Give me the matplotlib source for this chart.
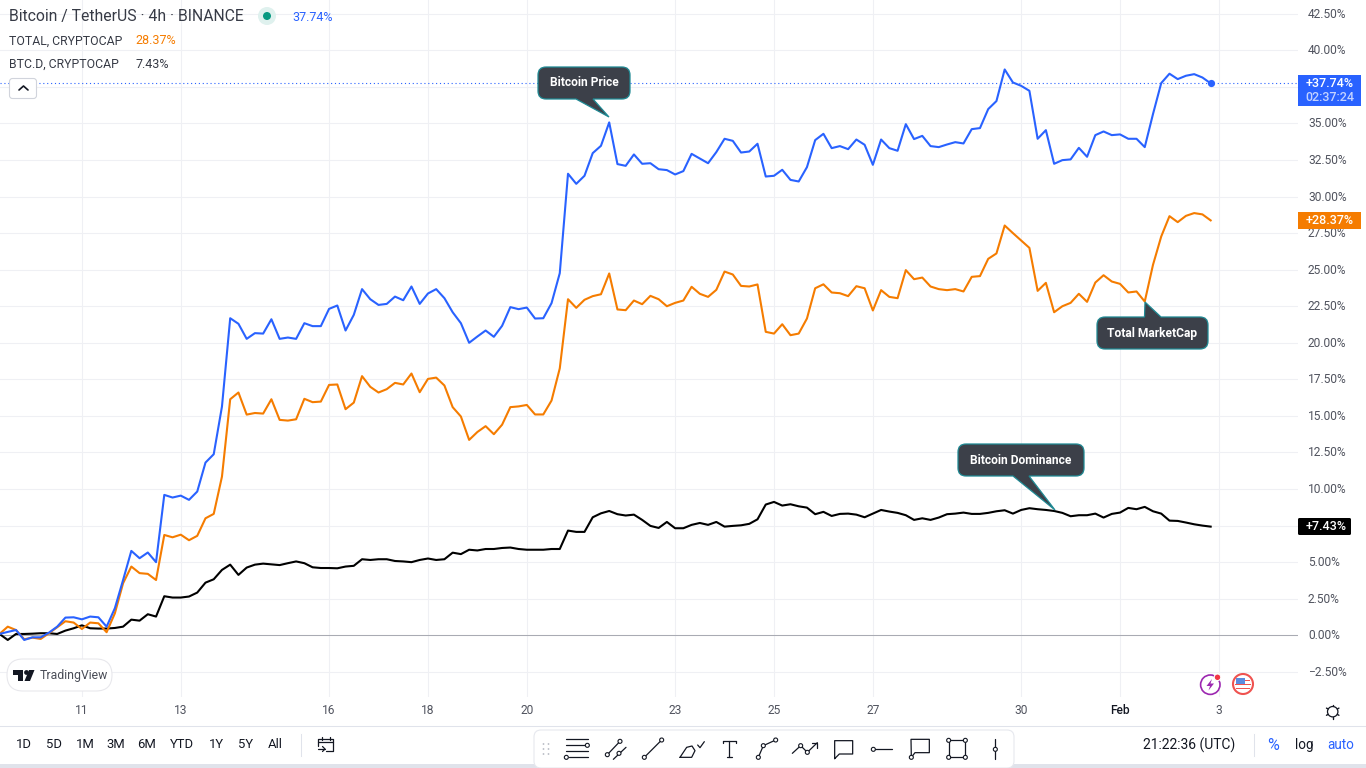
import numpy as np
import matplotlib
matplotlib.use("Agg")
import matplotlib.pyplot as plt
from matplotlib.patches import PathPatch, Circle, Rectangle, FancyBboxPatch, Polygon
from matplotlib.path import Path
from matplotlib.transforms import ScaledTranslation

plt.rcParams['font.family'] = ['Roboto', 'DejaVu Sans']

btc_price = [
 .09,.23,.36,-.32,-.14,-.14,.18,.59,1.21,1.23,
 1.09,1.28,1.23,.59,1.85,3.78,5.77,5.27,5.66,5.0,
 9.6,9.42,9.55,9.26,9.83,11.81,12.38,15.64,21.68,21.3,
 20.27,20.66,20.63,21.61,20.27,20.36,20.27,21.34,21.14,21.14,
 22.32,22.55,20.84,21.91,23.67,22.98,22.59,22.66,23.16,22.91,
 23.85,22.66,23.37,23.67,23.05,22.09,21.34,20.0,20.43,20.84,
 20.41,21.16,22.44,22.3,22.41,21.66,21.68,22.71,24.76,31.56,
 30.87,31.42,32.97,33.47,35.07,32.22,32.1,32.88,32.24,32.28,
 31.87,31.81,31.51,31.74,32.92,32.6,32.28,33.04,33.95,33.81,
 33.01,33.08,33.61,31.37,31.42,31.83,31.14,31.03,32.01,33.86,
 34.29,33.31,33.45,33.24,33.9,33.54,32.17,33.9,33.31,33.13,
 34.95,33.93,34.15,33.45,33.38,33.56,33.72,33.63,34.61,34.68,
 35.98,36.53,38.69,37.8,37.57,37.23,33.95,34.54,32.24,32.49,
 32.54,33.33,32.72,34.2,34.45,34.2,34.25,33.95,33.95,33.38,
 35.64,37.76,38.4,38.03,38.26,38.37,38.14,37.74]

total_mcap = [
 .09,.59,.36,-.27,-.16,-.25,.14,.55,.96,.87,
 .43,.87,.82,.21,1.5,3.56,4.7,4.25,4.2,3.78,
 6.86,6.7,6.88,6.5,6.8,8.0,8.3,10.85,16.14,16.6,
 15.09,15.2,15.16,16.14,14.73,14.68,14.77,16.17,15.94,15.98,
 17.12,17.15,15.46,15.91,17.72,16.99,16.6,16.83,17.26,17.15,
 17.9,16.62,17.53,17.62,17.08,15.6,14.96,13.36,13.9,14.3,
 13.75,14.4,15.6,15.65,15.75,15.1,15.1,16.05,18.25,22.98,
 22.39,22.94,23.19,23.32,24.74,22.28,22.23,22.89,22.64,23.21,
 22.98,22.5,22.73,22.89,23.83,23.35,23.14,23.62,24.87,24.67,
 23.89,23.85,23.99,20.75,20.63,21.27,20.52,20.63,21.66,23.73,
 24.0,23.44,23.39,23.19,23.87,23.73,22.21,23.6,23.14,23.05,
 24.97,24.35,24.46,23.85,23.67,23.6,23.67,23.51,24.51,24.56,
 25.74,26.11,28.02,27.5,27.0,26.49,23.55,24.1,22.09,22.5,
 22.73,23.35,22.8,24.12,24.62,24.19,24.03,23.44,23.51,22.82,
 25.33,27.27,28.66,28.25,28.68,28.87,28.78,28.37]

btc_dominance = [
 .09,-.32,.09,.09,.11,.14,.14,.09,.32,.48,
 .68,.48,.46,.46,.5,.59,1.07,1.0,1.44,1.28,
 2.67,2.58,2.58,2.65,2.92,3.6,3.83,4.47,4.83,4.13,
 4.63,4.83,4.9,4.85,4.8,4.93,5.05,4.93,4.65,4.6,
 4.6,4.58,4.7,4.75,5.2,5.15,5.2,5.2,5.08,5.05,
 5.0,5.15,5.25,5.15,5.2,5.65,5.55,5.85,5.8,5.9,
 5.9,5.97,6.0,5.9,5.85,5.85,5.85,5.9,5.9,7.16,
 7.07,7.07,8.07,8.34,8.5,8.28,8.19,8.25,7.89,7.48,
 7.34,7.75,7.32,7.32,7.55,7.68,7.55,7.75,7.43,7.48,
 7.52,7.62,7.93,8.94,9.12,8.87,8.96,8.82,8.73,8.28,
 8.44,8.16,8.3,8.32,8.25,8.07,8.32,8.57,8.46,8.37,
 8.21,7.89,8.0,7.89,8.05,8.28,8.32,8.39,8.3,8.3,
 8.37,8.48,8.55,8.32,8.57,8.69,8.62,8.57,8.5,8.37,
 8.14,8.21,8.21,8.32,8.05,8.3,8.39,8.71,8.62,8.78,
 8.48,8.32,7.84,7.82,7.71,7.59,7.5,7.43]

date_tick_bars = [10, 22, 40, 52, 64, 82, 94, 106, 124, 136, 148]
date_tick_labels = ['11', '13', '16', '18', '20', '23', '25', '27', '30', 'Feb', '3']
pct_ticks = [-2.5 + 2.5 * i for i in range(19)]
hidden_pct_labels = [7.5, 37.5]
pct_labels = ['' if v in hidden_pct_labels else f"{v:.2f}%".replace('-', '\u2212') for v in pct_ticks]
range_buttons = ['1D', '5D', '1M', '3M', '6M', 'YTD', '1Y', '5Y', 'All']

BLUE, ORANGE, INK = '#2962ff', '#f57c00', '#131722'
GRID = '#eff0f4'
px = lambda s: s * 0.72

fig = plt.figure(figsize=(13.66, 7.68), dpi=100, facecolor='white')
ax = fig.add_axes([0, 71 / 768, 1298 / 1366, 697 / 768])
bars = np.arange(len(btc_price))
ax.set_xlim(0.06, 157.6)
ax.set_ylim(-4.22, 43.44)
for s in ax.spines.values():
    s.set_visible(False)
ax.set_xticks(date_tick_bars, date_tick_labels)
ax.yaxis.tick_right()
ax.set_yticks(pct_ticks, pct_labels)
ax.tick_params(axis='both', length=0, colors='#50535e', labelsize=px(12))
ax.tick_params(axis='x', pad=px(7))
ax.tick_params(axis='y', pad=px(10))
up = ScaledTranslation(0, 1 / 100, fig.dpi_scale_trans)
for lab in ax.get_yticklabels():
    lab.set_transform(lab.get_transform() + up)
for lab in ax.get_xticklabels():
    if lab.get_text() == 'Feb':
        lab.set_color(INK)
        lab.set_fontweight('medium')
ax.grid(True, color=GRID, lw=0.75)
ax.set_axisbelow(True)
ax.axhline(0, color='#a9abb3', lw=0.75, zorder=1.5)
ax.axhline(btc_price[-1], color=BLUE, lw=0.8, ls=(0, (1, 2.5)), zorder=1.6)
ax.plot(bars, btc_dominance, color='black', lw=1.5, zorder=3, solid_joinstyle='round')
ax.plot(bars, total_mcap, color=ORANGE, lw=1.5, zorder=3.1, solid_joinstyle='round')
ax.plot(bars, btc_price, color=BLUE, lw=1.5, zorder=3.2, solid_joinstyle='round')
ax.plot(bars[-1], btc_price[-1], 'o', color=BLUE, ms=5.2, mew=0, zorder=3.3)

ui = fig.add_axes([0, 0, 1, 1], zorder=5)
ui.set_xlim(0, 1366)
ui.set_ylim(768, 0)
ui.axis('off')
ui.patch.set_alpha(0)


def label(x, y, s, size=12, color=INK, ha='left', weight='normal', **kw):
    return ui.text(x, y, s, fontsize=px(size), color=color, ha=ha, va='center',
                   fontweight=weight, **kw)


def seg(pts, color=INK, lw=1.0, **kw):
    p = np.array(pts, float)
    ui.plot(p[:, 0], p[:, 1], color=color, lw=lw, solid_capstyle='round', **kw)


def dot(x, y, r=2.0, fc='white', ec=INK, lw=0.8, z=6):
    ui.add_patch(Circle((x, y), r, fc=fc, ec=ec, lw=lw, zorder=z))


# legend
label(9, 16, 'Bitcoin / TetherUS \u00b7 4h \u00b7 BINANCE', 15.7, '#363a45')
ui.add_patch(Circle((267, 16), 9, fc='#dff1ee', ec='none'))
ui.add_patch(Circle((267, 16), 4, fc='#089981', ec='none'))
label(292, 17.5, f"{btc_price[-1]:.2f}%", 12.5, BLUE)
label(9, 41, 'TOTAL, CRYPTOCAP', 12.2, '#363a45')
label(135, 41, f"{total_mcap[-1]:.2f}%", 12.5, ORANGE)
label(9, 64, 'BTC.D, CRYPTOCAP', 12.2, '#363a45')
label(135, 64, f"{btc_dominance[-1]:.2f}%", 12.5, '#363a45')
ui.add_patch(FancyBboxPatch((11, 80), 24, 17, boxstyle='round,pad=1.5,rounding_size=3',
                            fc='white', ec='#d1d4dc', lw=0.8))
seg([(19, 90), (23.5, 86), (28, 90)], lw=1.2)


# callouts
def callout(x0, y0, x1, y1, tip, b1, b2, side, text, tx, ty):
    r = 8
    verts = [(x0 + r, y0)]
    codes = [Path.MOVETO]
    if side == 'top':
        verts += [(b1, y0), tip, (b2, y0)]
        codes += [Path.LINETO] * 3
    verts += [(x1 - r, y0), (x1, y0), (x1, y0 + r), (x1, y1 - r), (x1, y1), (x1 - r, y1)]
    codes += [Path.LINETO, Path.CURVE3, Path.CURVE3, Path.LINETO, Path.CURVE3, Path.CURVE3]
    if side == 'bottom':
        verts += [(b2, y1), tip, (b1, y1)]
        codes += [Path.LINETO] * 3
    verts += [(x0 + r, y1), (x0, y1), (x0, y1 - r), (x0, y0 + r), (x0, y0), (x0 + r, y0)]
    codes += [Path.LINETO, Path.CURVE3, Path.CURVE3, Path.LINETO, Path.CURVE3, Path.CURVE3]
    ui.add_patch(PathPatch(Path(verts, codes), fc='#3c4049', ec='#1f8a94', lw=0.9, zorder=7))
    label(tx, ty, text, 12, 'white', ha='center', weight='bold', zorder=8)


callout(538, 67, 630, 99, (609, 117), 576, 593, 'bottom', 'Bitcoin Price', 584, 82)
callout(1097, 317, 1208, 349, (1145, 302), 1144.5, 1161, 'top', 'Total MarketCap', 1152, 333)
callout(958, 444, 1084, 476, (1055, 510), 1013, 1029, 'bottom', 'Bitcoin Dominance', 1021, 460)

# price tags
ui.add_patch(Rectangle((1298, 75), 63, 31, fc=BLUE, ec='none', zorder=6))
label(1330, 83.5, f"+{btc_price[-1]:.2f}%", 12.5, 'white', ha='center', weight='medium', zorder=7)
label(1330, 97.7, '02:37:24', 12.5, '#c3d2ff', ha='center', weight='medium', zorder=7)
ui.add_patch(Rectangle((1298, 212), 63, 17, fc=ORANGE, ec='none', zorder=6))
label(1330, 220.5, f"+{total_mcap[-1]:.2f}%", 12.5, 'white', ha='center', weight='medium', zorder=7)
ui.add_patch(FancyBboxPatch((1298, 518), 53, 17, boxstyle='round,pad=0,rounding_size=1.5',
                            fc='black', ec='none', zorder=6))
label(1326, 526.5, f"+{btc_dominance[-1]:.2f}%", 12.5, 'white', ha='center', weight='medium', zorder=7)

# TradingView badge
ui.add_patch(FancyBboxPatch((7, 659), 105, 32, boxstyle='round,pad=0,rounding_size=16',
                            fc='white', ec='#e8e8ec', lw=0.8))
ui.add_patch(Polygon([(13, 670), (23, 670), (23, 681), (18, 681), (18, 675), (13, 675)], fc=INK, ec='none'))
ui.add_patch(Circle((26.5, 672.5), 2.4, fc=INK, ec='none'))
ui.add_patch(Polygon([(29, 670), (34.5, 670), (30, 681), (24.5, 681)], fc=INK, ec='none'))
label(40, 675, 'TradingView', 12.3, '#4a4d57')

# news / flag badges
ui.add_patch(Circle((1210.3, 684.7), 9.7, fc='white', ec='#9c27b0', lw=1.2))
ui.add_patch(Polygon([(1212, 679), (1206.5, 686), (1210, 686), (1208.5, 690.5), (1214, 683.5), (1210.5, 683.5)],
                     fc='#9c27b0', ec='none'))
ui.add_patch(Circle((1217.5, 677.3), 3.3, fc='#f23645', ec='white', lw=0.8))
ui.add_patch(Circle((1243, 684), 10, fc='white', ec='#ef5350', lw=1.5))
ui.add_patch(Rectangle((1235, 683.5), 16, 1.4, fc='#ef5350', ec='none'))
ui.add_patch(Rectangle((1236, 687.5), 14, 1.8, fc='#ef5350', ec='none'))
ui.add_patch(Rectangle((1236, 678), 8.5, 5.5, fc='#5b8cdf', ec='none'))
ui.add_patch(Rectangle((1244.5, 679.5), 5.5, 1.4, fc='#ef5350', ec='none'))

# gear
ui.add_patch(Circle((1332.7, 711.7), 5.2, fc='white', ec=INK, lw=0.9))
for a in np.deg2rad(np.arange(0, 360, 60) + 30):
    seg([(1332.7 + 5.4 * np.cos(a), 711.7 + 5.4 * np.sin(a)),
         (1332.7 + 7.2 * np.cos(a), 711.7 + 7.2 * np.sin(a))], lw=1.0)

# bottom bar
ui.plot([0, 1366], [725.5, 725.5], color='#e0e3eb', lw=0.75)
ui.add_patch(Rectangle((0, 764), 1366, 4, fc='#e0e3eb', ec='none'))
for x, t in zip([24, 54, 85, 116, 147, 182, 216, 246, 275], range_buttons):
    label(x, 745, t, 13, ha='center')
ui.plot([300.5, 300.5], [734, 756], color='#e0e3eb', lw=0.75)
seg([(322, 739), (318.3, 739), (318.3, 746)], lw=0.9)
seg([(322, 739), (333.3, 739), (333.3, 751), (326, 751)], lw=0.9)
seg([(318.3, 742), (333.3, 742)], lw=0.9)
seg([(321.5, 737), (321.5, 740)], lw=0.9)
seg([(330, 737), (330, 740)], lw=0.9)
seg([(317.5, 749), (325, 749)], lw=0.9)
seg([(322.5, 746.5), (325, 749), (322.5, 751.5)], lw=0.9)
label(1143, 745, '21:22:36 (UTC)', 13.9)
ui.plot([1253.5, 1253.5], [734, 756], color='#e0e3eb', lw=0.75)
label(1273, 745, '%', 16, BLUE, ha='center')
label(1304, 745, 'log', 13.5, ha='center')
label(1341, 745, 'auto', 13.5, BLUE, ha='center')

# drawing toolbar
ui.add_patch(FancyBboxPatch((534, 730), 480, 38, boxstyle='round,pad=0,rounding_size=7',
                            fc='white', ec='#e6e8ee', lw=0.8, zorder=3.2))
for xd in (543.5, 548.5):
    for yd in (744, 749, 754):
        ui.add_patch(Circle((xd, yd), 0.9, fc='#b8bbc4', ec='none', zorder=6))


def T(zx, zy):
    return (530 + zx / 3, 660 + zy / 3)


def tseg(*pts, lw=0.9):
    seg([T(*p) for p in pts], lw=lw, zorder=6)


def tdot(zx, zy):
    x, y = T(zx, zy)
    dot(x, y, r=2.0, z=7)


tseg((108, 238), (173, 238)); tseg((108, 256), (165, 256)); tseg((108, 274), (173, 274)); tseg((118, 292), (173, 292))
tdot(172, 256); tdot(109, 292)
tseg((232, 284), (270, 244)); tseg((250, 298), (288, 262))
tdot(232, 284); tdot(270, 244); tdot(267, 280)
tseg((343, 292), (395, 240)); tdot(343, 292); tdot(395, 240)
tseg((450, 292), (470, 262), (486, 258), (495, 272), (485, 292), (450, 292))
tseg((503, 255), (510, 263), (523, 245))
tseg((598, 242), (598, 292)); tseg((580, 242), (617, 242)); tseg((590, 292), (606, 292))
tseg((580, 242), (580, 250)); tseg((617, 242), (617, 250))
tseg((685, 292), (700, 257), (737, 240)); tdot(685, 292); tdot(700, 257); tdot(737, 240)
tseg((787, 280), (812, 257), (832, 277), (862, 248)); tseg((845, 248), (862, 248), (862, 265)); tdot(812, 257); tdot(832, 277)
tseg((914, 296), (914, 242), (968, 242), (968, 282), (928, 282), (914, 296))
tseg((1030, 268), (1086, 268)); tdot(1030, 268)
tseg((1144, 292), (1143, 238), (1198, 238), (1198, 278), (1155, 278), (1144, 292)); tdot(1144, 292)
tseg((1256, 241), (1306, 241), (1306, 292), (1256, 292), (1256, 241))
for c in [(1256, 241), (1306, 241), (1306, 292), (1256, 292)]:
    tdot(*c)
tseg((1396, 238), (1396, 298)); tdot(1396, 268)

fig.savefig('out.png', dpi=100)
